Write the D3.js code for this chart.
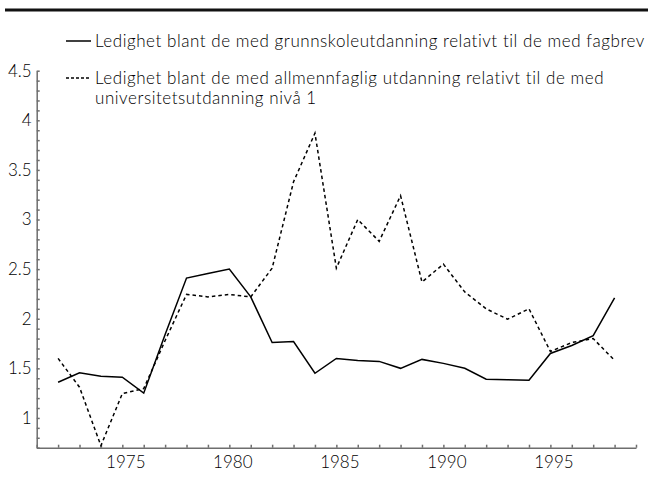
<!DOCTYPE html>
<html>
  <head>
    <meta charset="utf-8" />
    <script src="https://cdn.jsdelivr.net/npm/d3@7"></script>
    <style>
      body { margin: 0; background: #fff; }
      .axis text { font: 300 17px Lato, sans-serif; fill: #000; }
      .axis path, .axis line { fill: none; stroke: #6e6e6e; stroke-width: 1.5; }
      .legend text { font: 300 17px Lato, sans-serif; fill: #000; letter-spacing: 0.55px; }
    </style>
  </head>
  <body>
    <svg id="chart" width="648" height="486"></svg>
    <script>
      // years on the x axis
      var years = [1972, 1973, 1974, 1975, 1976, 1977, 1978, 1979, 1980, 1981, 1982, 1983, 1984,
        1985, 1986, 1987, 1988, 1989, 1990, 1991, 1992, 1993, 1994, 1995, 1996, 1997, 1998];

      // grunnskole vs fagbrev (solid)
      var grunnskole = [1.36, 1.456, 1.42, 1.41, 1.25, 1.84, 2.41, 2.455, 2.5, 2.22, 1.76, 1.77, 1.45,
        1.6, 1.58, 1.57, 1.5, 1.59, 1.55, 1.5, 1.39, 1.385, 1.38, 1.65, 1.73, 1.83, 2.21];

      // allmennfaglig vs universitet niva 1 (dashed)
      var allmenn = [1.6, 1.31, 0.72, 1.245, 1.295, 1.78, 2.245, 2.22, 2.245, 2.22, 2.51, 3.38, 3.87,
        2.51, 3.0, 2.78, 3.24, 2.37, 2.55, 2.27, 2.1, 1.995, 2.1, 1.67, 1.76, 1.8, 1.58];

      var yLabels = [1, 1.5, 2, 2.5, 3, 3.5, 4, 4.5];
      var xLabels = [1975, 1980, 1985, 1990, 1995];
      var legendLabels = [
        ['Ledighet blant de med grunnskoleutdanning relativt til de med fagbrev'],
        ['Ledighet blant de med allmennfaglig utdanning relativt til de med', 'universitetsutdanning nivå 1']
      ];

      var svg = d3.select('#chart');

      var sx = d3.scaleLinear().domain([1971, 1999]).range([36.7, 636]);
      var sy = d3.scaleLinear().domain([0.7, 4.5]).range([447.7, 70.7]);

      // thick rule at the top
      svg.append('line')
        .attr('x1', 5).attr('x2', 648)
        .attr('y1', 10).attr('y2', 10)
        .attr('stroke', '#111')
        .attr('stroke-width', 3);

      var yTicks = d3.range(7, 46).map(function(d) { return d / 10; });
      var yaxis = d3.axisLeft(sy)
        .tickValues(yTicks)
        .tickSizeInner(-3)
        .tickSizeOuter(0)
        .tickPadding(5)
        .tickFormat(function(d) {
          return yLabels.indexOf(d) >= 0 ? String(d) : '';
        });

      var xaxis = d3.axisBottom(sx)
        .tickValues(d3.range(1971, 2000))
        .tickSizeInner(-3)
        .tickSizeOuter(0)
        .tickPadding(8)
        .tickFormat(function(d) {
          return xLabels.indexOf(d) >= 0 ? String(d) : '';
        });

      svg.append('g')
        .attr('class', 'axis')
        .attr('transform', 'translate(36.7,0)')
        .call(yaxis);

      svg.append('g')
        .attr('class', 'axis')
        .attr('transform', 'translate(0,447.7)')
        .call(xaxis)
        .selectAll('text')
        .attr('dx', 3);

      var line = d3.line()
        .x(function(d, i) { return sx(years[i]); })
        .y(function(d) { return sy(d); });

      svg.append('path')
        .attr('d', line(grunnskole))
        .attr('fill', 'none')
        .attr('stroke', '#000')
        .attr('stroke-width', 1.5);

      svg.append('path')
        .attr('d', line(allmenn))
        .attr('fill', 'none')
        .attr('stroke', '#000')
        .attr('stroke-width', 1.5)
        .attr('stroke-dasharray', '3.5,3');

      // legend
      var legend = svg.append('g').attr('class', 'legend');
      var legendY = [41, 78];
      var dashes = [null, '3,2'];
      legendLabels.forEach(function(lines, k) {
        legend.append('line')
          .attr('x1', 66).attr('x2', 91)
          .attr('y1', legendY[k]).attr('y2', legendY[k])
          .attr('stroke', '#000')
          .attr('stroke-width', 1.5)
          .attr('stroke-dasharray', dashes[k]);
        lines.forEach(function(t, j) {
          legend.append('text')
            .attr('x', 95)
            .attr('y', legendY[k] + j * 20)
            .attr('dy', '0.35em')
            .text(t);
        });
      });
    </script>
  </body>
</html>
